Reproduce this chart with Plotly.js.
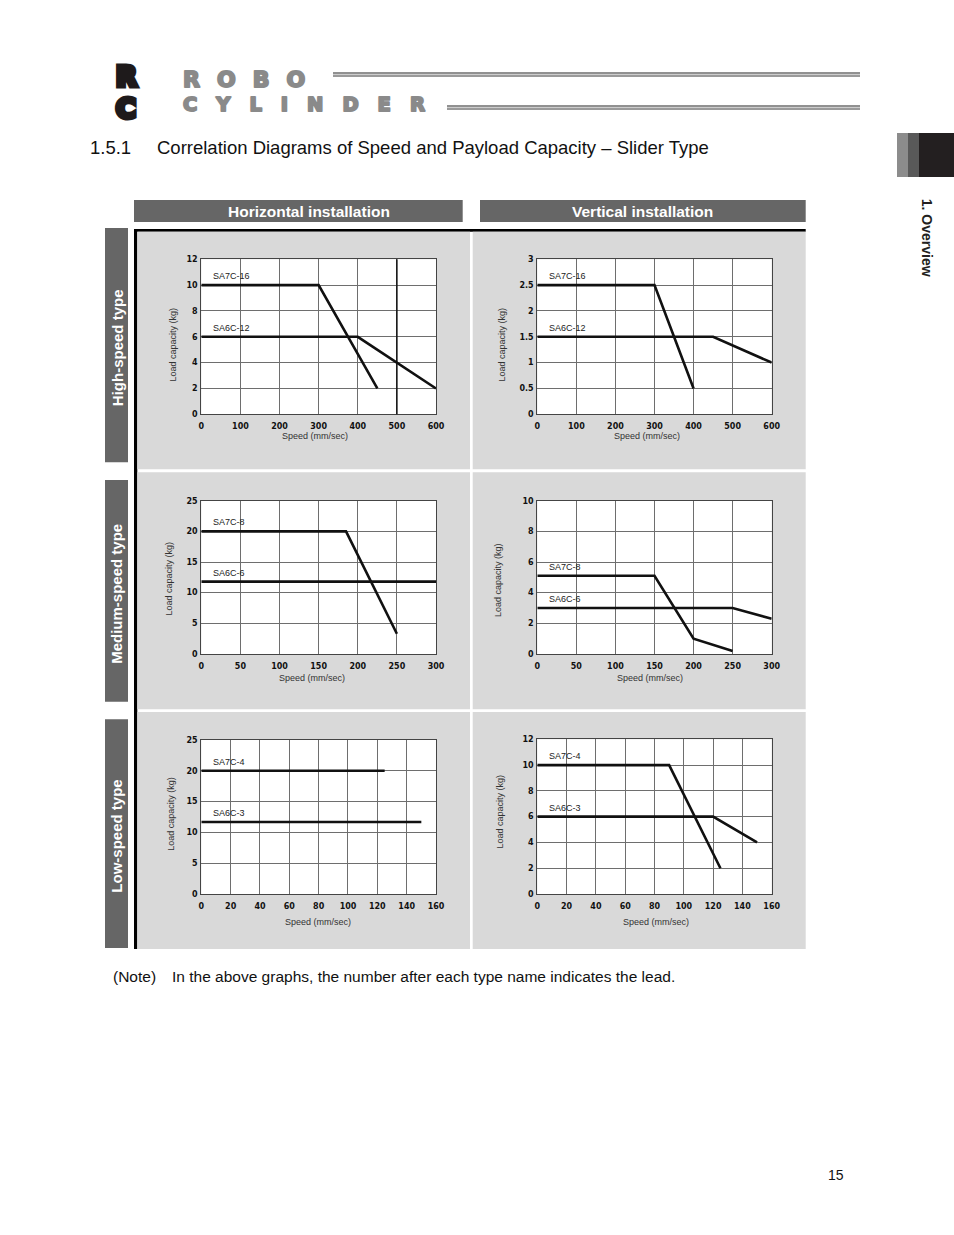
<!DOCTYPE html>
<html><head><meta charset="utf-8">
<script src="https://cdn.plot.ly/plotly-3.0.1.min.js"></script>
<style>html,body{margin:0;padding:0;background:#fff;}#chart{width:954px;height:1235px;}</style>
</head><body><div id="chart"></div>
<script>
// ---------- data ----------
const hsHorizSpeedSA7C16 = [0, 300, 450];
const hsHorizLoadSA7C16  = [10, 10, 2];
const hsHorizSpeedSA6C12 = [0, 400, 600];
const hsHorizLoadSA6C12  = [6, 6, 2];

const hsVertSpeedSA7C16 = [0, 300, 400];
const hsVertLoadSA7C16  = [2.5, 2.5, 0.5];
const hsVertSpeedSA6C12 = [0, 450, 600];
const hsVertLoadSA6C12  = [1.5, 1.5, 1];

const msHorizSpeedSA7C8 = [0, 185, 250];
const msHorizLoadSA7C8  = [20, 20, 3.3];
const msHorizSpeedSA6C6 = [0, 300];
const msHorizLoadSA6C6  = [11.8, 11.8];

const msVertSpeedSA7C8 = [0, 150, 200, 250];
const msVertLoadSA7C8  = [5.1, 5.1, 1, 0.2];
const msVertSpeedSA6C6 = [0, 250, 300];
const msVertLoadSA6C6  = [3, 3, 2.3];

const lsHorizSpeedSA7C4 = [0, 125];
const lsHorizLoadSA7C4  = [20, 20];
const lsHorizSpeedSA6C3 = [0, 150];
const lsHorizLoadSA6C3  = [11.7, 11.7];

const lsVertSpeedSA7C4 = [0, 90, 125];
const lsVertLoadSA7C4  = [10, 10, 2];
const lsVertSpeedSA6C3 = [0, 120, 150];
const lsVertLoadSA6C3  = [6, 6, 4];

const ticksSpeed600 = [0, 100, 200, 300, 400, 500, 600];
const ticksSpeed300 = [0, 50, 100, 150, 200, 250, 300];
const ticksSpeed160 = [0, 20, 40, 60, 80, 100, 120, 140, 160];
const ticksLoad12   = [0, 2, 4, 6, 8, 10, 12];
const ticksLoad3    = [0, 0.5, 1, 1.5, 2, 2.5, 3];
const ticksLoad25   = [0, 5, 10, 15, 20, 25];
const ticksLoad10   = [0, 2, 4, 6, 8, 10];

const columnHeaders = ['Horizontal installation', 'Vertical installation'];
const rowHeaders = ['High-speed type', 'Medium-speed type', 'Low-speed type'];
const xAxisTitle = 'Speed (mm/sec)';
const yAxisTitle = 'Load capacity (kg)';
const pageTitleNum = '1.5.1';
const pageTitle = 'Correlation Diagrams of Speed and Payload Capacity – Slider Type';
const noteLabel = '(Note)';
const noteText = 'In the above graphs, the number after each type name indicates the lead.';
const pageNumber = '15';
const sectionTab = '1. Overview';
const logoTop = 'ROBO';
const logoBottom = 'CYLINDER';

// ---------- layout helpers ----------
const W = 954, H = 1235;
const px = v => v / W;
const py = v => 1 - v / H;

const charts = [
  {xs:[201.3,436], ys:[259.3,414.3], xt:ticksSpeed600, yt:ticksLoad12,
   series:[[hsHorizSpeedSA7C16, hsHorizLoadSA7C16, 'SA7C-16'], [hsHorizSpeedSA6C12, hsHorizLoadSA6C12, 'SA6C-12']],
   yT:[172.5,345], xT:[315,436]},
  {xs:[537.3,771.7], ys:[259.3,414.3], xt:ticksSpeed600, yt:ticksLoad3,
   series:[[hsVertSpeedSA7C16, hsVertLoadSA7C16, 'SA7C-16'], [hsVertSpeedSA6C12, hsVertLoadSA6C12, 'SA6C-12']],
   yT:[501.5,345], xT:[646.7,436]},
  {xs:[201.3,436], ys:[500.7,654], xt:ticksSpeed300, yt:ticksLoad25,
   series:[[msHorizSpeedSA7C8, msHorizLoadSA7C8, 'SA7C-8'], [msHorizSpeedSA6C6, msHorizLoadSA6C6, 'SA6C-6']],
   yT:[168.5,579], xT:[312,678.3]},
  {xs:[537.3,771.7], ys:[500.7,654], xt:ticksSpeed300, yt:ticksLoad10,
   series:[[msVertSpeedSA7C8, msVertLoadSA7C8, 'SA7C-8'], [msVertSpeedSA6C6, msVertLoadSA6C6, 'SA6C-6']],
   yT:[498,580], xT:[650,678.3]},
  {xs:[201.3,436], ys:[740,894], xt:ticksSpeed160, yt:ticksLoad25,
   series:[[lsHorizSpeedSA7C4, lsHorizLoadSA7C4, 'SA7C-4'], [lsHorizSpeedSA6C3, lsHorizLoadSA6C3, 'SA6C-3']],
   yT:[170.7,814], xT:[317.8,922.3]},
  {xs:[537.3,771.7], ys:[739.3,894], xt:ticksSpeed160, yt:ticksLoad12,
   series:[[lsVertSpeedSA7C4, lsVertLoadSA7C4, 'SA7C-4'], [lsVertSpeedSA6C3, lsVertLoadSA6C3, 'SA6C-3']],
   yT:[500,811.5], xT:[656,922.3]}
];

const data = [];
const shapes = [];
const annotations = [];
const layout = {
  width: W, height: H,
  margin: {l:0, r:0, t:0, b:0},
  paper_bgcolor: '#ffffff',
  plot_bgcolor: '#ffffff',
  showlegend: false,
  font: {family: 'Liberation Sans, Arial, sans-serif', color: '#1a1a1a'}
};

function rect(x0, y0, x1, y1, color) {
  shapes.push({type:'rect', xref:'paper', yref:'paper', layer:'below',
    x0:px(x0), x1:px(x1), y0:py(y1), y1:py(y0), fillcolor:color, line:{width:0}});
}
function line(x0, y0, x1, y1, color, w) {
  shapes.push({type:'line', xref:'paper', yref:'paper', layer:'below',
    x0:px(x0), x1:px(x1), y0:py(y0), y1:py(y1), line:{color:color, width:w}});
}
function text(x, y, t, opts) {
  annotations.push(Object.assign({xref:'paper', yref:'paper', x:px(x), y:py(y), text:t,
    showarrow:false, xanchor:'center', yanchor:'middle'}, opts));
}

// ---------- page decoration ----------
// logo (heavy letters: a stroke thickens the glyphs)
const emblemStyle = 'stroke:#1e1a1b;stroke-width:5px;stroke-linejoin:miter;paint-order:stroke';
text(126, 76.5, '<span style="' + emblemStyle + '">R</span>', {font:{family:'DejaVu Sans', size:27, weight:'bold', color:'#1e1a1b'}});
text(126, 108.8, '<span style="' + emblemStyle + '">C</span>', {font:{family:'DejaVu Sans', size:27, weight:'bold', color:'#1e1a1b'}});
const grayStyle = 'stroke:#8a8a8a;stroke-width:2px;stroke-linejoin:round;paint-order:stroke;letter-spacing:';
text(181, 79.5, '<span style="' + grayStyle + '17px">' + logoTop + '</span>', {xanchor:'left', font:{family:'DejaVu Sans', size:22, weight:'bold', color:'#8a8a8a'}});
text(181, 104.5, '<span style="' + grayStyle + '19px">' + logoBottom + '</span>', {xanchor:'left', font:{family:'DejaVu Sans', size:19.5, weight:'bold', color:'#8a8a8a'}});
line(333, 73, 860, 73, '#222', 1);
rect(333, 74.5, 860, 77, '#9a9a9a');
line(447, 106, 860, 106, '#222', 1);
rect(447, 107.5, 860, 110, '#9a9a9a');

// right tab
rect(897, 133, 908, 177, '#8c8c8c');
rect(908, 133, 919, 177, '#595959');
rect(919, 133, 954, 177, '#231f20');
text(926.7, 237.5, sectionTab, {textangle:90, font:{size:14, weight:'bold', color:'#231f20'}});

// title
text(88, 148, pageTitleNum, {xanchor:'left', font:{size:18.5, color:'#111'}});
text(155, 148, pageTitle, {xanchor:'left', font:{size:18.5, color:'#111'}});

// column header bars
rect(134, 200, 462.7, 222, '#666666');
rect(480, 200, 805.7, 222, '#666666');
text(309, 211.5, columnHeaders[0], {font:{size:15.5, weight:'bold', color:'#ffffff'}});
text(642, 211.5, columnHeaders[1], {font:{size:15.5, weight:'bold', color:'#ffffff'}});

// row header bars
const rowBars = [[228, 462.3], [480, 701.7], [719.3, 948]];
rowBars.forEach((b, i) => {
  rect(105, b[0], 128, b[1], '#666666');
  text(117, (b[0] + b[1]) / 2 + 3, rowHeaders[i], {textangle:-90, font:{size:15, weight:'bold', color:'#ffffff'}});
});

// frame and panels
rect(134, 229, 805.7, 231.7, '#000000');
rect(134, 229, 137.3, 949, '#000000');
const panelCols = [[137.3, 470], [472.7, 805.7]];
const panelRows = [[231.7, 469.3], [472.3, 709.3], [712, 949]];
panelRows.forEach(r => panelCols.forEach(c => rect(c[0], r[0], c[1], r[1], '#d9d9d9')));

// note and page number
text(111, 976.5, noteLabel, {xanchor:'left', font:{size:15.5, color:'#111'}});
text(170, 976.5, noteText, {xanchor:'left', font:{size:15.5, color:'#111'}});
text(835.5, 1174.5, pageNumber, {font:{size:14, color:'#111'}});

// ---------- charts ----------
charts.forEach((c, i) => {
  const n = i === 0 ? '' : String(i + 1);
  const xa = 'x' + n, ya = 'y' + n;
  rect(c.xs[0], c.ys[0], c.xs[1], c.ys[1], '#ffffff');
  layout['xaxis' + n] = {
    domain:[px(c.xs[0]), px(c.xs[1])], anchor:ya,
    range:[c.xt[0], c.xt[c.xt.length - 1]], tickmode:'array', tickvals:c.xt,
    showgrid:true, gridcolor:'#6e6e6e', gridwidth:1, zeroline:false,
    showline:true, mirror:true, linecolor:'#444', linewidth:1,
    ticks:'', ticklabelstandoff:4, fixedrange:true,
    tickfont:{family:'DejaVu Sans', size:8, weight:'bold', color:'#111'}
  };
  layout['yaxis' + n] = {
    domain:[py(c.ys[1]), py(c.ys[0])], anchor:xa,
    range:[c.yt[0], c.yt[c.yt.length - 1]], tickmode:'array', tickvals:c.yt,
    showgrid:true, gridcolor:'#6e6e6e', gridwidth:1, zeroline:false,
    showline:true, mirror:true, linecolor:'#444', linewidth:1,
    ticks:'', ticklabelstandoff:1, fixedrange:true,
    tickfont:{family:'DejaVu Sans', size:8, weight:'bold', color:'#111'}
  };
  c.series.forEach(s => {
    data.push({type:'scatter', mode:'lines', x:s[0], y:s[1], name:s[2], xaxis:xa, yaxis:ya,
      line:{color:'#111111', width:2.6}, hoverinfo:'x+y+name'});
    annotations.push({xref:xa + ' domain', yref:ya, x:0, y:s[1][0], xshift:10, yshift:9,
      xanchor:'left', yanchor:'middle', text:s[2], showarrow:false,
      font:{family:'Liberation Sans, Arial', size:9, color:'#222'}});
  });
  text(c.yT[0], c.yT[1], yAxisTitle, {textangle:-90, font:{size:9, color:'#333'}});
  text(c.xT[0], c.xT[1], xAxisTitle, {font:{size:9, color:'#333'}});
});
// darker grid line visible in the first chart
shapes.push({type:'line', xref:'x', yref:'y domain', x0:500, x1:500, y0:0, y1:1, layer:'above',
  line:{color:'#111', width:1.5}});

layout.shapes = shapes;
layout.annotations = annotations;
Plotly.newPlot('chart', data, layout, {displayModeBar:false, staticPlot:true});
</script></body></html>
